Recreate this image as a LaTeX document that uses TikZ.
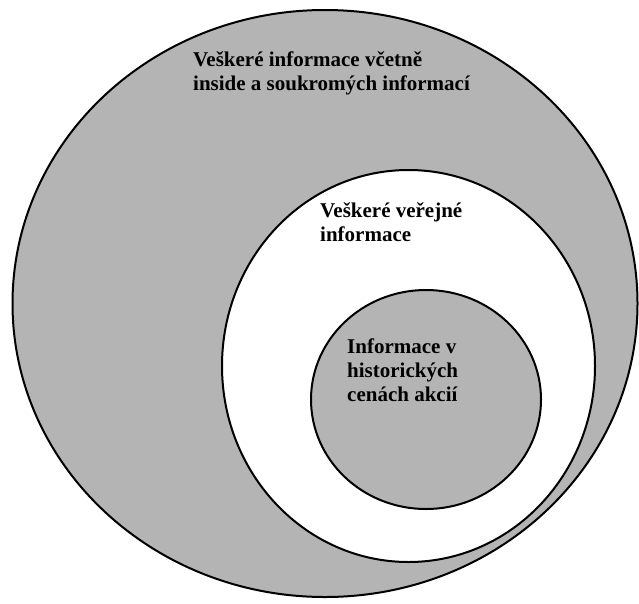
\documentclass[tikz,border=0pt]{standalone}
\usepackage{fontspec}
\setmainfont{Liberation Serif}
\usetikzlibrary{shapes}
\definecolor{setgray}{RGB}{180,180,180}
\tikzset{
  setline/.style={draw=black,line width=2pt},
  setlabel/.style={font=\bfseries\fontsize{21}{24}\selectfont,align=left,anchor=base west,inner sep=0pt,text=black}
}
\begin{document}
\begin{tikzpicture}[x=1pt,y=-1pt]
\useasboundingbox (0,0) rectangle (639,603);

%%% ALL INFORMATION
\path[setline,fill=setgray] (325,303.5) ellipse [x radius=312.5,y radius=293.5];
\path (193,90) node[setlabel] (allinfo) {Veškeré informace včetně\\inside a soukromých informací};

%%% PUBLIC INFORMATION
\path[setline,fill=white] (408.5,366) ellipse [x radius=186.5,y radius=196];
\path (320,241) node[setlabel] (publicinfo) {Veškeré veřejné\\informace};

%%% PRICE HISTORY
\path[setline,fill=setgray] (426,399.5) ellipse [x radius=115,y radius=109.5];
\path (347,401) node[setlabel] (priceinfo) {Informace v\\historických\\cenách akcií};
\end{tikzpicture}
\end{document}
